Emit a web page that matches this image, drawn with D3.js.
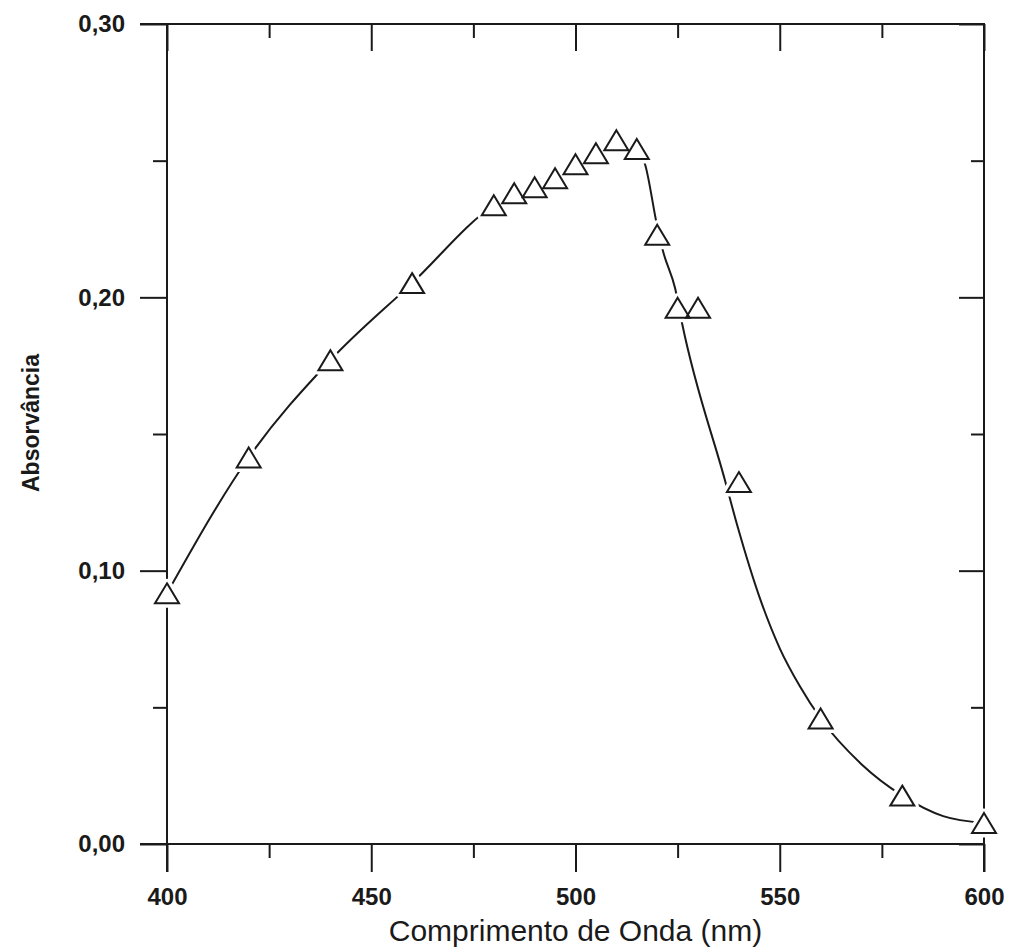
<!DOCTYPE html>
<html>
<head>
<meta charset="utf-8">
<script src="https://cdn.jsdelivr.net/npm/d3@7"></script>
<style>
  html, body { margin: 0; padding: 0; background: #fff; }
  svg { display: block; }
</style>
</head>
<body>
<svg id="chart" width="1011" height="951"></svg>
<script>
// Measured points (triangles)
const wavelength = [400, 420, 440, 460, 480, 485, 490, 495, 500, 505, 510, 515, 520, 525, 530, 540, 560, 580, 600];
const absorbance = [0.0917, 0.1414, 0.1770, 0.2052, 0.2337, 0.2381, 0.2403, 0.2436, 0.2487, 0.2527, 0.2575, 0.2543, 0.2229, 0.1962, 0.1962, 0.1324, 0.0459, 0.0177, 0.0077];

// Smoothed line
const curveWavelength = [400, 420, 440, 460, 480, 485, 490, 495, 500, 505, 510, 515, 517, 520, 521.4, 524.4, 526.1, 536.6, 539.8, 545, 550, 555, 560, 570, 580, 590, 600];
const curveAbsorbance = [0.0917, 0.1414, 0.1770, 0.2052, 0.2337, 0.2381, 0.2403, 0.2436, 0.2487, 0.2527, 0.2575, 0.2543, 0.2488, 0.2260, 0.2170, 0.2032, 0.1904, 0.1330, 0.1155, 0.0905, 0.0716, 0.0575, 0.0459, 0.0292, 0.0177, 0.0102, 0.0077];

const xMajorTicks = [400, 450, 500, 550, 600];
const xMinorTicks = [425, 475, 525, 575];
const yMajorTicks = [0.00, 0.10, 0.20, 0.30];
const yMinorTicks = [0.05, 0.15, 0.25];

const xTitle = "Comprimento de Onda (nm)";
const yTitle = "Absorvância";

const svg = d3.select("#chart");
const pLeft = 167, pRight = 984, pTop = 24, pBottom = 844;
const ink = "#1a1a1a";

const x = d3.scaleLinear().domain([400, 600]).range([pLeft, pRight]);
const y = d3.scaleLinear().domain([0, 0.30]).range([pBottom, pTop]);

const fmtY = v => d3.format(".2f")(v).replace(".", ",");

// Bottom axis (outward ticks)
svg.append("g").attr("transform", `translate(0,${pBottom})`)
  .call(d3.axisBottom(x).tickValues(xMajorTicks).tickSize(28).tickPadding(16).tickFormat(d3.format("d")));
svg.append("g").attr("transform", `translate(0,${pBottom})`)
  .call(d3.axisBottom(x).tickValues(xMinorTicks).tickSize(14).tickFormat(""));
// Top axis (inward ticks)
svg.append("g").attr("transform", `translate(0,${pTop})`)
  .call(d3.axisBottom(x).tickValues(xMajorTicks).tickSize(27).tickFormat(""));
svg.append("g").attr("transform", `translate(0,${pTop})`)
  .call(d3.axisBottom(x).tickValues(xMinorTicks).tickSize(14).tickFormat(""));
// Left axis (outward ticks)
svg.append("g").attr("transform", `translate(${pLeft},0)`)
  .call(d3.axisLeft(y).tickValues(yMajorTicks).tickSize(27).tickPadding(15).tickFormat(fmtY));
svg.append("g").attr("transform", `translate(${pLeft},0)`)
  .call(d3.axisLeft(y).tickValues(yMinorTicks).tickSize(14).tickFormat(""));
// Right axis (inward ticks)
svg.append("g").attr("transform", `translate(${pRight},0)`)
  .call(d3.axisLeft(y).tickValues(yMajorTicks).tickSize(25).tickFormat(""));
svg.append("g").attr("transform", `translate(${pRight},0)`)
  .call(d3.axisLeft(y).tickValues(yMinorTicks).tickSize(13).tickFormat(""));

svg.selectAll(".domain").remove();
svg.selectAll(".tick line").attr("stroke", ink).attr("stroke-width", 2);
svg.selectAll(".tick text")
  .attr("fill", ink)
  .style("font-family", "'Liberation Sans', Arial, sans-serif")
  .style("font-size", "24px")
  .style("font-weight", "bold");

// Frame
svg.append("line").attr("x1", pLeft - 27).attr("x2", pRight + 1).attr("y1", pBottom).attr("y2", pBottom).attr("stroke", ink).attr("stroke-width", 2);
svg.append("line").attr("x1", pLeft - 27).attr("x2", pRight + 1).attr("y1", pTop).attr("y2", pTop).attr("stroke", ink).attr("stroke-width", 2);
svg.append("line").attr("x1", pLeft).attr("x2", pLeft).attr("y1", pTop - 1).attr("y2", pBottom + 28).attr("stroke", ink).attr("stroke-width", 2);
svg.append("line").attr("x1", pRight).attr("x2", pRight).attr("y1", pTop - 1).attr("y2", pBottom + 28).attr("stroke", ink).attr("stroke-width", 2);

// Smoothed curve
const curvePts = curveWavelength.map((w, i) => [w, curveAbsorbance[i]]);
svg.append("path")
  .datum(curvePts)
  .attr("fill", "none")
  .attr("stroke", ink)
  .attr("stroke-width", 2)
  .attr("d", d3.line().x(d => x(d[0])).y(d => y(d[1])).curve(d3.curveMonotoneX));

// Markers: white halo (gap in the line), then open triangle
const pts = wavelength.map((w, i) => [w, absorbance[i]]);
const tri = "M0,-10L12,10L-12,10Z";
svg.append("g").selectAll("path.halo").data(pts).join("path")
  .attr("class", "halo")
  .attr("transform", d => `translate(${x(d[0])},${y(d[1])})`)
  .attr("d", tri)
  .attr("fill", "#fff")
  .attr("stroke", "#fff")
  .attr("stroke-width", 9)
  .attr("stroke-linejoin", "round");
svg.append("g").selectAll("path.mk").data(pts).join("path")
  .attr("class", "mk")
  .attr("transform", d => `translate(${x(d[0])},${y(d[1])})`)
  .attr("d", tri)
  .attr("fill", "none")
  .attr("stroke", ink)
  .attr("stroke-width", 2);

// Titles
svg.append("text")
  .attr("x", (pLeft + pRight) / 2)
  .attr("y", 941)
  .attr("text-anchor", "middle")
  .attr("fill", ink)
  .style("font-family", "'Liberation Sans', Arial, sans-serif")
  .style("font-size", "30px")
  .text(xTitle);

svg.append("text")
  .attr("transform", `translate(39,423) rotate(-90)`)
  .attr("text-anchor", "middle")
  .attr("fill", ink)
  .style("font-family", "'Liberation Sans', Arial, sans-serif")
  .style("font-size", "23px")
  .style("font-weight", "bold")
  .text(yTitle);
</script>
</body>
</html>
